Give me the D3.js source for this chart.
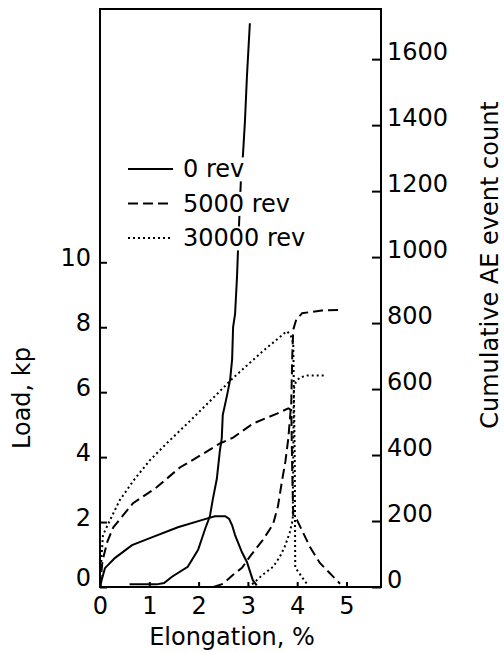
<!DOCTYPE html>
<meta charset="utf-8">
<style>
body { margin: 0; background: #fff; }
svg text { font-family: "DejaVu Sans", sans-serif; font-size: 24px; fill: #000; }
.frame { fill: none; stroke: #000; stroke-width: 2; }
.curve { fill: none; stroke: #000; stroke-width: 2; }
.tick line { stroke: #000; stroke-width: 2; }
</style>
<svg width="504" height="652"></svg>
<script src="https://cdn.jsdelivr.net/npm/d3@7"></script>
<script>

// elongation (%) vs load (kp), one array per test
var load0 = [[0,0],[0.04,0.25],[0.1,0.58],[0.3,0.89],[0.65,1.29],[1.05,1.53],[1.58,1.84],[2.13,2.09],
  [2.33,2.18],[2.54,2.18],[2.62,2.1],[2.68,1.9],[2.74,1.6],[2.88,1.07],[2.98,0.77],[3.1,0.21],[3.18,0.05]];
var load5000 = [[0,0],[0.05,0.8],[0.15,1.4],[0.27,1.84],[0.67,2.58],[1.15,3.07],[1.62,3.68],[2.09,4.1],
  [2.43,4.42],[2.7,4.6],[3.1,5.03],[3.59,5.34],[3.82,5.5],[3.88,5.45],[3.9,3.5],[3.92,2.2],[4.0,2.05],
  [4.26,1.23],[4.46,0.74],[4.87,0.1]];
var load30000 = [[0,0],[0.03,0.9],[0.06,1.6],[0.2,2.05],[0.4,2.67],[0.68,3.28],[1.01,3.9],[1.35,4.42],
  [1.83,5.12],[2.3,5.83],[2.7,6.44],[3.31,7.27],[3.79,7.88],[3.87,7.75],[3.92,7.5],[3.95,4],[3.96,0.6],
  [4.1,0.3],[4.22,0.05]];

// elongation (%) vs cumulative AE event count
var ae0 = [[0.6,8],[1.15,8],[1.3,12],[1.46,31],[1.78,61],[1.99,113],[2.13,175],[2.23,215],[2.29,267],
  [2.37,328],[2.43,411],[2.47,451],[2.49,521],[2.58,583],[2.64,629],[2.68,690],[2.7,788],[2.74,828],
  [2.78,942],[2.8,1025],[2.86,1240],[2.9,1310],[2.94,1411],[2.98,1546],[3.04,1709]];
var ae5000 = [[2.3,0],[2.5,10],[2.7,37],[2.88,58],[3.04,92],[3.31,144],[3.51,190],[3.61,245],[3.69,320],
  [3.76,380],[3.82,450],[3.88,560],[3.9,700],[3.92,780],[3.98,810],[4.1,830],[4.5,838],[4.9,840]];
var ae30000 = [[3.0,0],[3.1,10],[3.3,37],[3.51,61],[3.65,92],[3.75,123],[3.85,166],[3.91,205],[3.92,400],
  [3.93,600],[3.97,620],[4.05,635],[4.2,641],[4.56,641]];

var legendLabels = ["0 rev", "5000 rev", "30000 rev"];
var xTicks = [0,1,2,3,4,5];
var loadTicks = [0,2,4,6,8,10];
var aeTicks = [0,200,400,600,800,1000,1200,1400,1600];

var svg = d3.select("svg");
var dashes = ["none", "10,5", "2,3"];
var fmt = d3.format("d");

var x = d3.scaleLinear().domain([0, 5.7]).range([100, 381]);
var yL = d3.scaleLinear().domain([0, 17.8]).range([587, 9]);
var yR = d3.scaleLinear().domain([0, 1752]).range([587, 9]);

var lineL = d3.line().x(function(d){ return x(d[0]); }).y(function(d){ return yL(d[1]); });
var lineR = d3.line().x(function(d){ return x(d[0]); }).y(function(d){ return yR(d[1]); });

[load0, load5000, load30000].forEach(function(s, i){
  svg.append("path").attr("class", "curve").attr("d", lineL(s)).attr("stroke-dasharray", dashes[i]);
});
[ae0, ae5000, ae30000].forEach(function(s, i){
  svg.append("path").attr("class", "curve").attr("d", lineR(s)).attr("stroke-dasharray", dashes[i]);
});

// axes, ticks pointing inward
var gx = svg.append("g").attr("transform", "translate(0,587)")
  .call(d3.axisBottom(x).tickValues(xTicks).tickFormat(fmt).tickSizeInner(-5).tickSizeOuter(0).tickPadding(10));
var gl = svg.append("g").attr("transform", "translate(100,0)")
  .call(d3.axisLeft(yL).tickValues(loadTicks).tickFormat(fmt).tickSizeInner(-7).tickSizeOuter(0).tickPadding(9));
var gr = svg.append("g").attr("transform", "translate(381,0)")
  .call(d3.axisRight(yR).tickValues(aeTicks).tickFormat(fmt).tickSizeInner(-9).tickSizeOuter(0).tickPadding(6));
[gx, gl, gr].forEach(function(g){
  g.select(".domain").remove();
  g.attr("font-size", null).attr("font-family", null);
});
gl.selectAll(".tick text").attr("transform", function(d){ return d === 0 ? "translate(0,-9)" : "translate(0,-4)"; });
gr.selectAll(".tick text").attr("transform", "translate(0,-7)");

svg.append("rect").attr("class", "frame").attr("x", 100).attr("y", 9).attr("width", 281).attr("height", 578);

// legend
var leg = svg.append("g");
legendLabels.forEach(function(t, i){
  var y = 169 + i * 34.5;
  var tx = leg.append("text").attr("x", 183).attr("y", y).attr("dy", "0.35em").text(t);
  var b = tx.node().getBBox();
  leg.insert("rect", "text").attr("x", b.x - 2).attr("y", b.y + 2).attr("width", b.width + 4)
    .attr("height", b.height - 4).attr("fill", "#fff");
  leg.append("line").attr("x1", 128).attr("x2", 173).attr("y1", y).attr("y2", y)
    .attr("stroke", "#000").attr("stroke-width", 2).attr("stroke-dasharray", dashes[i]);
});

// titles
svg.append("text").attr("x", 232).attr("y", 645).attr("text-anchor", "middle").text("Elongation, %");
svg.append("text").attr("transform", "translate(30,398) rotate(-90)").attr("text-anchor", "middle").text("Load, kp");
svg.append("text").attr("transform", "translate(498,265) rotate(-90)").attr("text-anchor", "middle").text("Cumulative AE event count");

</script>
